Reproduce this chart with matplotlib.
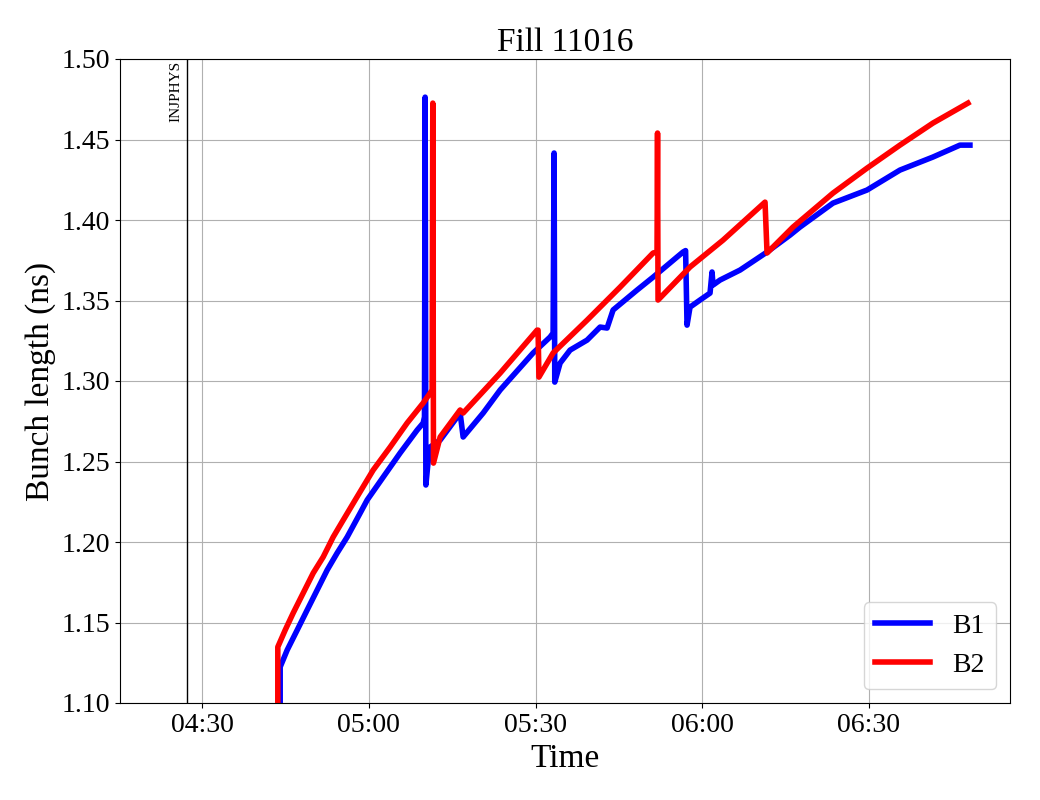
import numpy as np
import pandas as pd
import matplotlib
matplotlib.use("Agg")
import matplotlib.pyplot as plt
import matplotlib.dates as mdates
from matplotlib.ticker import FormatStrFormatter

plt.rcParams['font.family'] = ['Liberation Serif', 'DejaVu Serif']

# minutes after 04:00, bunch length in ns
b1_min = [44.03, 44.03, 45.29, 47.09, 48.89, 50.69, 52.49, 54.29, 56.09, 58.43, 59.69,
          62.57, 65.62, 68.68, 69.76, 70.0, 70.12, 70.25, 70.66, 71.02, 72.82, 76.42, 76.96,
          80.56, 83.62, 89.55, 92.61, 93.15, 93.33, 93.45, 94.41, 96.21, 99.27, 101.61, 102.87,
          103.95, 108.27, 111.15, 115.46, 116.54, 117.0, 117.26, 117.80, 119.60, 121.40, 121.76,
          121.94, 123.20, 126.80, 131.66, 135.79, 137.59, 143.53, 149.65, 155.58, 161.52,
          166.38, 168.18]
b1_val = [1.100, 1.1224, 1.1329, 1.1453, 1.1578, 1.1702, 1.1826, 1.1932, 1.2031, 1.2180, 1.2261,
          1.2403, 1.2553, 1.2695, 1.2739, 1.2776, 1.4763, 1.2354, 1.2500, 1.2590, 1.2633, 1.2801, 1.2652,
          1.2801, 1.2944, 1.3174, 1.3273, 1.3298, 1.4416, 1.2993, 1.3111, 1.3192, 1.3254, 1.3335, 1.3329,
          1.3441, 1.3565, 1.3645, 1.3770, 1.3801, 1.3810, 1.3347, 1.3459, 1.3503, 1.3546, 1.3677,
          1.3596, 1.3627, 1.3689, 1.3801, 1.3906, 1.3956, 1.4105, 1.4186, 1.4310, 1.4391,
          1.4465, 1.4465]

b2_min = [43.60, 43.60, 44.93, 46.37, 48.17, 49.97, 51.77, 53.57, 55.37, 57.53, 60.77,
          63.83, 66.88, 69.76, 71.02, 71.38, 71.50, 71.62, 72.82, 76.42, 76.96, 83.62, 90.27,
          90.45, 90.60, 93.15, 99.27, 105.21, 111.15, 111.86, 111.95, 112.04, 117.80, 123.74,
          131.30, 131.66, 136.33, 143.53, 149.65, 155.58, 161.52, 167.82]
b2_val = [1.100, 1.1348, 1.1453, 1.1559, 1.1683, 1.1807, 1.1907, 1.2031, 1.2136, 1.2261, 1.2447,
          1.2590, 1.2739, 1.2863, 1.2925, 1.2944, 1.4726, 1.2490, 1.2652, 1.2820, 1.2801, 1.3049, 1.3316,
          1.3316, 1.3024, 1.3174, 1.3378, 1.3583, 1.3795, 1.3801, 1.4540, 1.3503, 1.3708, 1.3875,
          1.4111, 1.3795, 1.3956, 1.4167, 1.4322, 1.4465, 1.4602, 1.4726]

injphys_min = 27.30
xlim_min = [15.2, 175.4]

base = pd.Timestamp("2025-07-01 04:00:00")
def to_time(m):
    return base + pd.to_timedelta(np.asarray(m, dtype=float), unit="min")

fig = plt.figure(figsize=(10.4, 8), dpi=100)
ax = fig.add_axes([0.1154, 0.12125, 0.8558, 0.805])

ax.plot(to_time(b1_min), b1_val, color='blue', lw=4, label='B1')
ax.plot(to_time(b2_min), b2_val, color='red', lw=4, label='B2')

inj = base + pd.Timedelta(minutes=injphys_min)
ax.axvline(inj, color='black', lw=1)
ax.text(inj - pd.Timedelta(minutes=0.8), 1.499, 'INJPHYS', rotation=90,
        ha='right', va='top', fontsize=11)

ax.set_xlim(to_time(xlim_min[0]), to_time(xlim_min[1]))
ax.set_ylim(1.10, 1.50)
ax.set_yticks(np.arange(1.10, 1.501, 0.05))
ax.yaxis.set_major_formatter(FormatStrFormatter('%.2f'))
ax.xaxis.set_major_locator(mdates.MinuteLocator(byminute=[0, 30]))
ax.xaxis.set_major_formatter(mdates.DateFormatter('%H:%M'))
ax.tick_params(labelsize=20)
ax.grid(True, color='#b0b0b0', lw=0.8)

ax.set_title('Fill 11016', fontsize=24)
ax.set_xlabel('Time', fontsize=24)
ax.set_ylabel('Bunch length (ns)', fontsize=24)
ax.legend(loc='lower right', fontsize=20)

fig.savefig('out.png', dpi=100)
